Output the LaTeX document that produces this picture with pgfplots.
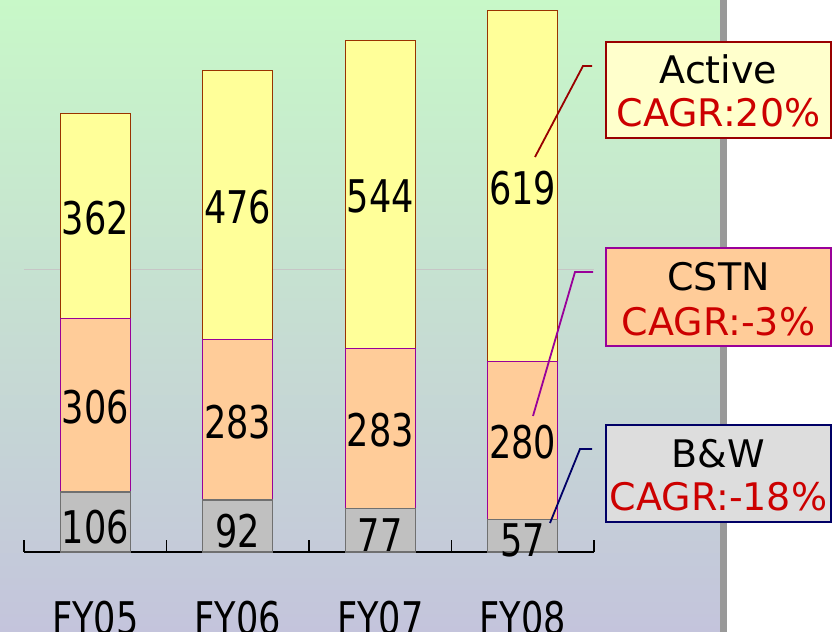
\documentclass[border=0pt]{standalone}
\usepackage{pgfplots}
\pgfplotsset{compat=1.18}
\usepackage{pgfplotstable}
\usepackage{fontspec}
\setmainfont{DejaVu Sans}
\newfontfamily\numfont[FakeStretch=0.78]{DejaVu Sans}
\definecolor{bgtop}{HTML}{C8F8C8}
\definecolor{bgbot}{HTML}{C4C4DC}
\definecolor{bwfill}{HTML}{C0C0C0}
\definecolor{bwdraw}{HTML}{707070}
\definecolor{cstnfill}{HTML}{FFCC99}
\definecolor{cstndraw}{HTML}{990099}
\definecolor{actfill}{HTML}{FFFF99}
\definecolor{actdraw}{HTML}{993300}
\definecolor{cagr}{HTML}{CC0000}
\definecolor{navy}{HTML}{000066}
\definecolor{dred}{HTML}{990000}
\definecolor{boxbw}{HTML}{DDDDDD}
\definecolor{boxact}{HTML}{FFFFCC}
\definecolor{sep}{HTML}{999999}
\pgfplotstableread{
x bw cstn active
0 106 306 362
1 92 283 476
2 77 283 544
3 57 280 619
}\data
\begin{document}
\begin{tikzpicture}[x=1pt,y=1pt]
\useasboundingbox (0,0) rectangle (839,632);
\fill[white] (0,0) rectangle (839,632);
\shade[top color=bgtop, bottom color=bgbot] (0,0) rectangle (721,632);
\fill[sep] (720,0) rectangle (727,632);
\begin{axis}[
  at={(24pt,80pt)}, anchor=south west, scale only axis,
  width=570pt, height=552pt,
  xmin=-0.5, xmax=3.5, ymin=0, ymax=975,
  ybar stacked, bar width=70pt,
  axis x line*=bottom, axis y line*=left,
  y axis line style={draw=none},
  xtick={0,1,2,3}, xticklabels={FY05,FY06,FY07,FY08},
  minor xtick={-0.5,0.5,1.5,2.5,3.5},
  major tick length=0pt, minor tick length=12pt,
  tick align=inside,
  ytick={500}, yticklabels={}, ymajorgrids,
  ytick style={draw=none},
  grid style={color=gray!45, line width=0.8pt},
  x axis line style={black, line width=1.2pt},
  xtick style={black, line width=1.2pt},
  xticklabel style={font=\numfont\fontsize{45}{50}\selectfont, anchor=center, yshift=-66pt},
  /pgf/number format/assume math mode=true,
  point meta=explicit,
  nodes near coords,
  every node near coord/.append style={font=\numfont\fontsize{45}{50}\selectfont, anchor=center, text=black, yshift=-2pt},
  clip=false,
]
\addplot[fill=bwfill, draw=bwdraw, line width=1.2pt,
  every node near coord/.append style={yshift=-3pt}]
  table[x=x, y=bw, meta=bw] {\data};
\addplot[fill=cstnfill, draw=cstndraw, line width=1.2pt]
  table[x=x, y=cstn, meta=cstn] {\data};
\addplot[fill=actfill, draw=actdraw, line width=1.2pt]
  table[x=x, y=active, meta=active] {\data};
\end{axis}
% callouts
\draw[dred, line width=1.8pt] (535,475) -- (583,566) -- (592,566);
\draw[cstndraw, line width=1.8pt] (533,216) -- (575,360) -- (593,360);
\draw[navy, line width=1.8pt] (550,109) -- (580,183) -- (592,183);
\draw[dred, fill=boxact, line width=1.8pt] (606,494) rectangle (831,590);
\draw[cstndraw, fill=cstnfill, line width=1.8pt] (606,286) rectangle (831,384);
\draw[navy, fill=boxbw, line width=1.8pt] (606,110) rectangle (831,207);
\begin{scope}[every node/.style={font=\fontsize{38}{40}\selectfont, inner sep=0pt}]
\node at (718.5,563) {Active};
\node[text=cagr] at (718.5,519.5) {CAGR:20\%};
\node at (718.5,355.5) {CSTN};
\node[text=cagr] at (718.5,310.5) {CAGR:-3\%};
\node at (718.5,178) {B\&W};
\node[text=cagr] at (718.5,135.5) {CAGR:-18\%};
\end{scope}
\end{tikzpicture}
\end{document}
